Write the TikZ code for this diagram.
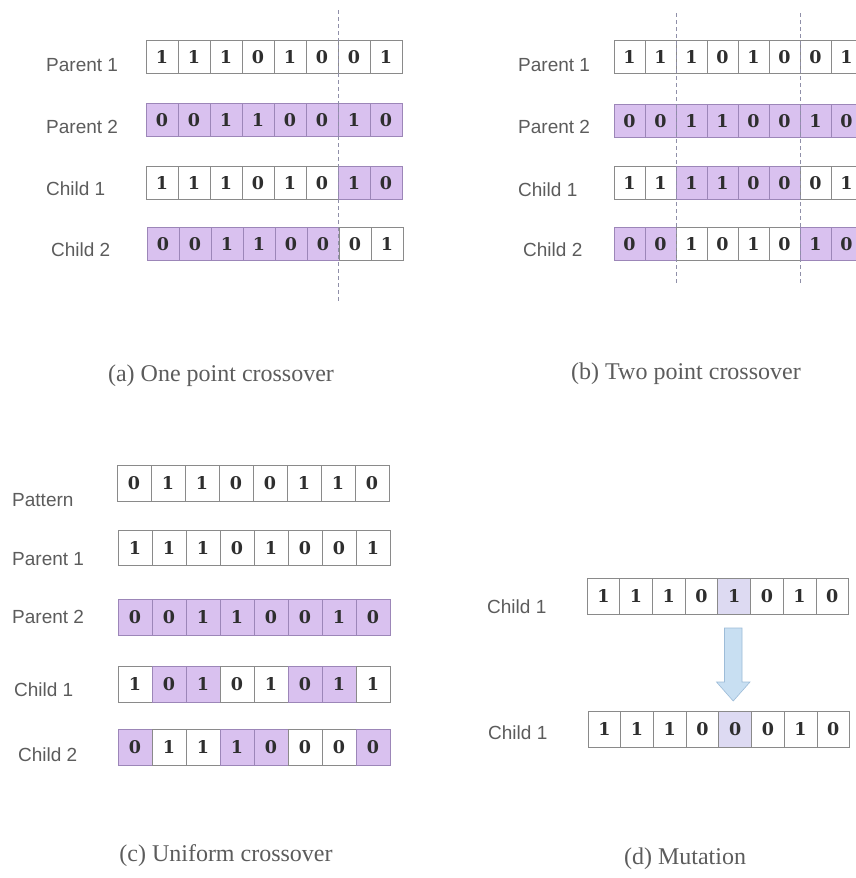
\documentclass[tikz,border=0pt]{standalone}
\usepackage{fontspec}
\setmainfont{Liberation Serif}
\newfontfamily\labfont{Liberation Sans}
\newfontfamily\digfont{DejaVu Serif}
\definecolor{purp}{HTML}{D9C1EF}
\definecolor{purpline}{HTML}{9C86B8}
\definecolor{cellline}{HTML}{8A8A8A}
\definecolor{hili}{HTML}{DDDAF2}
\definecolor{txtgray}{HTML}{5C5C5C}
\definecolor{diggray}{HTML}{2E2E2E}
\definecolor{arrfill}{HTML}{C8DFF2}
\definecolor{arrline}{HTML}{9DBCD8}
\definecolor{cutcol}{HTML}{8F8FA8}
\newcommand\gaRow[6]{% name, x left, y center, cell width, cell height, list value/style
  \foreach \v/\s [count=\i] in {#6} {%
    \node[\s, minimum width=#4pt, minimum height=#5pt] (#1-\i) at ({#2+(\i-0.5)*#4}, #3) {\v};}}
\begin{document}
\begin{tikzpicture}[x=1pt,y=-1pt,
  cellbase/.style={draw, line width=0.8pt, inner sep=0pt, font=\digfont\bfseries\fontsize{17.5}{17.5}\selectfont, text=diggray},
  wcell/.style={cellbase, draw=cellline, fill=white},
  pcell/.style={cellbase, draw=purpline, fill=purp},
  hcell/.style={cellbase, draw=cellline, fill=hili},
  rowlab/.style={anchor=west, inner sep=0pt, text=txtgray, font=\labfont\fontsize{19}{19}\selectfont},
  caption/.style={inner sep=0pt, text=txtgray, font=\fontsize{24}{25}\selectfont},
  cutline/.style={draw=cutcol, line width=0.8pt, dash pattern=on 4pt off 3pt}]
\useasboundingbox (0,0) rectangle (856,878);
\clip (0,0) rectangle (856,878);
\fill[white] (0,0) rectangle (856,878);

% ---------- (a) One point crossover ----------
\node[rowlab] (aL1) at (46,65) {Parent 1};
\node[rowlab] (aL2) at (46,127) {Parent 2};
\node[rowlab] (aL3) at (46,189) {Child 1};
\node[rowlab] (aL4) at (51,250) {Child 2};
\gaRow{aP1}{146}{57}{32}{33}{1/wcell,1/wcell,1/wcell,0/wcell,1/wcell,0/wcell,0/wcell,1/wcell}
\gaRow{aP2}{146}{120}{32}{33}{0/pcell,0/pcell,1/pcell,1/pcell,0/pcell,0/pcell,1/pcell,0/pcell}
\gaRow{aC1}{146}{183}{32}{33}{1/wcell,1/wcell,1/wcell,0/wcell,1/wcell,0/wcell,1/pcell,0/pcell}
\gaRow{aC2}{147}{244}{32}{33}{0/pcell,0/pcell,1/pcell,1/pcell,0/pcell,0/pcell,0/wcell,1/wcell}
\coordinate (aCutT) at (338,10);
\coordinate (aCutB) at (338,302);
\draw[cutline] (aCutT) -- (aCutB);
\node[caption] (aCap) at (221,376) {(a) One point crossover};

% ---------- (b) Two point crossover ----------
\node[rowlab] (bL1) at (518,65) {Parent 1};
\node[rowlab] (bL2) at (518,127) {Parent 2};
\node[rowlab] (bL3) at (518,190) {Child 1};
\node[rowlab] (bL4) at (523,250) {Child 2};
\gaRow{bP1}{614}{57}{31}{33}{1/wcell,1/wcell,1/wcell,0/wcell,1/wcell,0/wcell,0/wcell,1/wcell}
\gaRow{bP2}{614}{121}{31}{33}{0/pcell,0/pcell,1/pcell,1/pcell,0/pcell,0/pcell,1/pcell,0/pcell}
\gaRow{bC1}{614}{183}{31}{33}{1/wcell,1/wcell,1/pcell,1/pcell,0/pcell,0/pcell,0/wcell,1/wcell}
\gaRow{bC2}{614}{244}{31}{33}{0/pcell,0/pcell,1/wcell,0/wcell,1/wcell,0/wcell,1/pcell,0/pcell}
\coordinate (bCut1T) at (676,13);
\coordinate (bCut1B) at (676,284);
\coordinate (bCut2T) at (800,13);
\coordinate (bCut2B) at (800,284);
\draw[cutline] (bCut1T) -- (bCut1B);
\draw[cutline] (bCut2T) -- (bCut2B);
\node[caption] (bCap) at (686,374) {(b) Two point crossover};

% ---------- (c) Uniform crossover ----------
\node[rowlab] (cL0) at (12,500) {Pattern};
\node[rowlab] (cL1) at (12,559) {Parent 1};
\node[rowlab] (cL2) at (12,617) {Parent 2};
\node[rowlab] (cL3) at (14,690) {Child 1};
\node[rowlab] (cL4) at (18,755) {Child 2};
\gaRow{cPt}{117}{483}{34}{36}{0/wcell,1/wcell,1/wcell,0/wcell,0/wcell,1/wcell,1/wcell,0/wcell}
\gaRow{cP1}{118}{548}{34}{35}{1/wcell,1/wcell,1/wcell,0/wcell,1/wcell,0/wcell,0/wcell,1/wcell}
\gaRow{cP2}{118}{617}{34}{36}{0/pcell,0/pcell,1/pcell,1/pcell,0/pcell,0/pcell,1/pcell,0/pcell}
\gaRow{cC1}{118}{684}{34}{36}{1/wcell,0/pcell,1/pcell,0/wcell,1/wcell,0/pcell,1/pcell,1/wcell}
\gaRow{cC2}{118}{747}{34}{36}{0/pcell,1/wcell,1/wcell,1/pcell,0/pcell,0/wcell,0/wcell,0/pcell}
\node[caption] (cCap) at (226,856) {(c) Uniform crossover};

% ---------- (d) Mutation ----------
\node[rowlab] (dL1) at (487,607) {Child 1};
\node[rowlab] (dL2) at (488,733) {Child 1};
\gaRow{dR1}{587}{596}{32.7}{36}{1/wcell,1/wcell,1/wcell,0/wcell,1/hcell,0/wcell,1/wcell,0/wcell}
\gaRow{dR2}{588}{729}{32.7}{36}{1/wcell,1/wcell,1/wcell,0/wcell,0/hcell,0/wcell,1/wcell,0/wcell}
\draw[fill=arrfill, draw=arrline, line width=0.6pt]
  (724.5,628) -- (742,628) -- (742,682) -- (750,682) -- (733.2,701)
  -- (716.5,682) -- (724.5,682) -- cycle;
\node[caption] (dCap) at (685,859) {(d) Mutation};
\end{tikzpicture}
\end{document}
